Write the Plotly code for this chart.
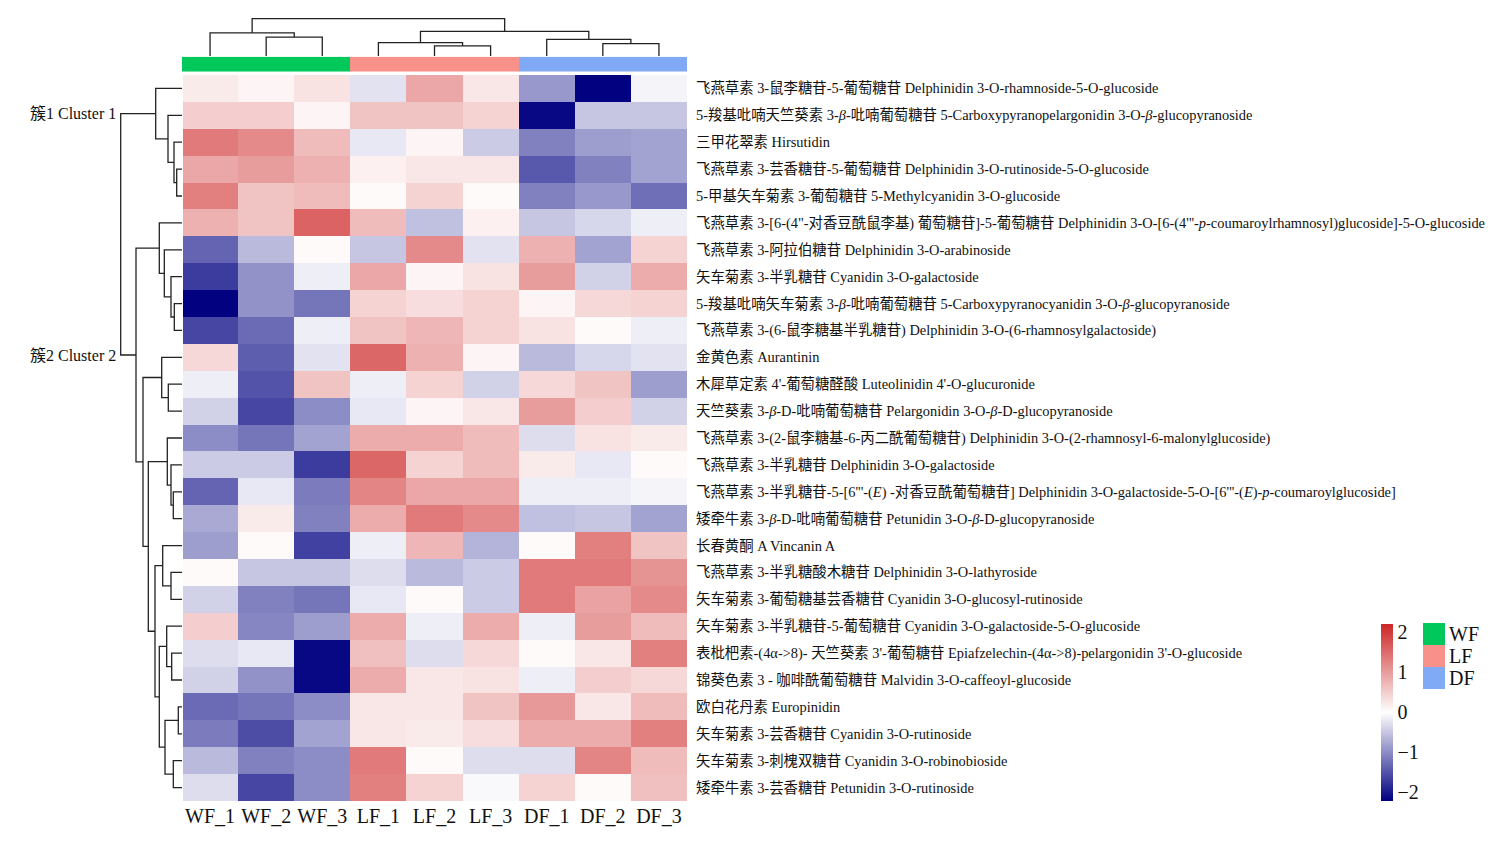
import plotly.graph_objects as go

W, H = 1507, 854

samples = ["WF_1", "WF_2", "WF_3", "LF_1", "LF_2", "LF_3", "DF_1", "DF_2", "DF_3"]
sample_group = [0, 0, 0, 1, 1, 1, 2, 2, 2]
groups = ["WF", "LF", "DF"]
group_colors = ["#00C85A", "#F8918A", "#80AAF5"]

compounds = [
    "飞燕草素 3-鼠李糖苷-5-葡萄糖苷 Delphinidin 3-O-rhamnoside-5-O-glucoside",
    "5-羧基吡喃天竺葵素 3-<i>β</i>-吡喃葡萄糖苷 5-Carboxypyranopelargonidin 3-O-<i>β</i>-glucopyranoside",
    "三甲花翠素 Hirsutidin",
    "飞燕草素 3-芸香糖苷-5-葡萄糖苷 Delphinidin 3-O-rutinoside-5-O-glucoside",
    "5-甲基矢车菊素 3-葡萄糖苷 5-Methylcyanidin 3-O-glucoside",
    "飞燕草素 3-[6-(4\"-对香豆酰鼠李基) 葡萄糖苷]-5-葡萄糖苷 Delphinidin 3-O-[6-(4'''-<i>p</i>-coumaroylrhamnosyl)glucoside]-5-O-glucoside",
    "飞燕草素 3-阿拉伯糖苷 Delphinidin 3-O-arabinoside",
    "矢车菊素 3-半乳糖苷 Cyanidin 3-O-galactoside",
    "5-羧基吡喃矢车菊素 3-<i>β</i>-吡喃葡萄糖苷 5-Carboxypyranocyanidin 3-O-<i>β</i>-glucopyranoside",
    "飞燕草素 3-(6-鼠李糖基半乳糖苷) Delphinidin 3-O-(6-rhamnosylgalactoside)",
    "金黄色素 Aurantinin",
    "木犀草定素 4'-葡萄糖醛酸 Luteolinidin 4'-O-glucuronide",
    "天竺葵素 3-<i>β</i>-D-吡喃葡萄糖苷 Pelargonidin 3-O-<i>β</i>-D-glucopyranoside",
    "飞燕草素 3-(2-鼠李糖基-6-丙二酰葡萄糖苷) Delphinidin 3-O-(2-rhamnosyl-6-malonylglucoside)",
    "飞燕草素 3-半乳糖苷 Delphinidin 3-O-galactoside",
    "飞燕草素 3-半乳糖苷-5-[6'''-(<i>E</i>) -对香豆酰葡萄糖苷] Delphinidin 3-O-galactoside-5-O-[6'''-(<i>E</i>)-<i>p</i>-coumaroylglucoside]",
    "矮牵牛素 3-<i>β</i>-D-吡喃葡萄糖苷 Petunidin 3-O-<i>β</i>-D-glucopyranoside",
    "长春黄酮 A Vincanin A",
    "飞燕草素 3-半乳糖酸木糖苷 Delphinidin 3-O-lathyroside",
    "矢车菊素 3-葡萄糖基芸香糖苷 Cyanidin 3-O-glucosyl-rutinoside",
    "矢车菊素 3-半乳糖苷-5-葡萄糖苷 Cyanidin 3-O-galactoside-5-O-glucoside",
    "表枇杷素-(4α->8)- 天竺葵素 3'-葡萄糖苷 Epiafzelechin-(4α->8)-pelargonidin 3'-O-glucoside",
    "锦葵色素 3 - 咖啡酰葡萄糖苷 Malvidin 3-O-caffeoyl-glucoside",
    "欧白花丹素 Europinidin",
    "矢车菊素 3-芸香糖苷 Cyanidin 3-O-rutinoside",
    "矢车菊素 3-刺槐双糖苷 Cyanidin 3-O-robinobioside",
    "矮牵牛素 3-芸香糖苷 Petunidin 3-O-rutinoside",
]

# row-scaled values (rows = compounds, cols = samples)
values = [
    [0.20, 0.10, 0.30, -0.25, 0.90, 0.25, -0.90, -2.20, -0.10],
    [0.50, 0.50, 0.10, 0.60, 0.60, 0.45, -2.15, -0.50, -0.50],
    [1.35, 1.20, 0.70, -0.20, 0.10, -0.45, -1.10, -0.85, -0.80],
    [0.90, 1.00, 0.80, 0.15, 0.25, 0.25, -1.45, -1.10, -0.80],
    [1.30, 0.60, 0.70, 0.05, 0.45, 0.05, -1.10, -0.90, -1.25],
    [0.80, 0.60, 1.60, 0.70, -0.55, 0.15, -0.50, -0.35, -0.15],
    [-1.35, -0.60, 0.05, -0.50, 1.20, -0.25, 0.80, -0.80, 0.45],
    [-1.70, -0.95, -0.15, 0.90, 0.10, 0.30, 1.00, -0.40, 0.85],
    [-2.20, -0.95, -1.20, 0.45, 0.35, 0.45, 0.10, 0.40, 0.45],
    [-1.60, -1.30, -0.15, 0.60, 0.75, 0.45, 0.30, 0.05, -0.15],
    [0.40, -1.40, -0.25, 1.55, 0.80, 0.10, -0.60, -0.35, -0.25],
    [-0.15, -1.50, 0.60, -0.15, 0.45, -0.40, 0.40, 0.60, -0.85],
    [-0.40, -1.60, -1.00, -0.20, 0.10, 0.25, 1.00, 0.50, -0.40],
    [-1.00, -1.20, -0.80, 0.85, 0.85, 0.70, -0.30, 0.30, 0.20],
    [-0.45, -0.45, -1.70, 1.55, 0.45, 0.70, 0.20, -0.20, 0.05],
    [-1.35, -0.20, -1.15, 1.25, 0.90, 0.90, -0.15, -0.15, -0.10],
    [-0.75, 0.20, -1.10, 0.85, 1.35, 1.20, -0.55, -0.50, -0.80],
    [-0.85, 0.05, -1.65, -0.15, 0.75, -0.65, 0.05, 1.30, 0.60],
    [0.05, -0.50, -0.50, -0.30, -0.60, -0.45, 1.35, 1.35, 1.10],
    [-0.40, -1.10, -1.20, -0.20, 0.05, -0.45, 1.35, 0.95, 1.20],
    [0.50, -1.05, -0.85, 0.85, -0.15, 0.85, -0.15, 1.00, 0.70],
    [-0.30, -0.20, -2.15, 0.65, -0.30, 0.40, 0.05, 0.25, 1.30],
    [-0.40, -0.95, -2.15, 0.85, 0.25, 0.30, -0.15, 0.50, 0.40],
    [-1.30, -1.20, -1.00, 0.25, 0.25, 0.60, 1.05, 0.25, 0.70],
    [-1.15, -1.55, -0.80, 0.25, 0.20, 0.35, 0.85, 0.85, 1.30],
    [-0.60, -1.10, -1.00, 1.35, 0.05, -0.30, -0.30, 1.25, 0.70],
    [-0.30, -1.60, -1.00, 1.30, 0.45, -0.05, 0.45, 0.05, 0.65],
]

# hierarchical clustering merges (scipy-style: id >= n refers to earlier merge), with merge heights
row_linkage = [
    (3, 4, 5.3), (2, 27, 8.0), (1, 28, 14.0), (0, 29, 26.3),
    (8, 9, 7.7), (7, 31, 11.0), (6, 32, 17.7), (5, 33, 22.7),
    (11, 12, 13.7), (10, 35, 20.3),
    (15, 16, 8.7), (14, 37, 11.0), (13, 38, 14.7),
    (18, 19, 11.0), (17, 40, 19.3),
    (21, 22, 10.3), (20, 42, 15.3),
    (23, 24, 3.7), (25, 26, 8.7), (44, 45, 17.0),
    (43, 46, 22.7), (41, 47, 27.0), (39, 48, 33.7), (36, 49, 39.0),
    (34, 50, 46.0), (30, 51, 61.3),
]
col_linkage = [
    (1, 2, 19.3), (0, 9, 23.7), (4, 5, 10.3), (3, 11, 13.7),
    (7, 8, 12.7), (6, 13, 17.0), (12, 14, 25.3), (10, 15, 38.3),
]
cluster_nodes = [30, 51]
cluster_names = ["簇1 Cluster 1", "簇2 Cluster 2"]

FONT = "Liberation Serif, Times New Roman, Noto Sans CJK SC, serif"


def dendro(linkage, n):
    pos = {i: float(i) for i in range(n)}
    hgt = {i: 0.0 for i in range(n)}
    P, Hh = [], []
    for k, (a, b, h) in enumerate(linkage):
        pa, pb = pos[a], pos[b]
        P += [pa, pa, pb, pb, None]
        Hh += [hgt[a], h, h, hgt[b], None]
        pos[n + k] = (pa + pb) / 2
        hgt[n + k] = h
    return P, Hh, pos, hgt


nr, nc = len(compounds), len(samples)
rp, rh, rpos, rhgt = dendro(row_linkage, nr)
cp, ch, cpos, chgt = dendro(col_linkage, nc)
root_h = row_linkage[-1][2]
col_root_h = col_linkage[-1][2]


def fx(px):
    return px / W


def fy(py):
    return 1 - py / H


fig = go.Figure()

# main heatmap
fig.add_trace(go.Heatmap(
    z=values, x=list(range(nc)), y=list(range(nr)),
    zmin=-2.22, zmax=2.22,
    colorscale=[[0, "#000080"], [0.5, "#FFFFFF"], [1, "#CD2626"]],
    xaxis="x", yaxis="y", hoverinfo="skip",
    colorbar=dict(
        x=fx(1381), xanchor="left", xpad=0, thickness=12,
        y=fy(712), yanchor="middle", len=177 / H, lenmode="fraction", ypad=0,
        outlinewidth=0, tickvals=[-2, -1, 0, 1, 2], ticks="",
        tickfont=dict(family=FONT, size=20, color="#111"),
    ),
))

# row dendrogram
fig.add_trace(go.Scatter(
    x=rh, y=rp, mode="lines", xaxis="x2", yaxis="y",
    line=dict(color="#222", width=1.3), hoverinfo="skip", showlegend=False,
))

# column dendrogram
fig.add_trace(go.Scatter(
    x=cp, y=ch, mode="lines", xaxis="x", yaxis="y3",
    line=dict(color="#222", width=1.3), hoverinfo="skip", showlegend=False,
))

disc = []
for i, c in enumerate(group_colors):
    disc += [[i / 3, c], [(i + 1) / 3, c]]

# group annotation bar
fig.add_trace(go.Heatmap(
    z=[sample_group], x=list(range(nc)), y=[0],
    zmin=-0.5, zmax=2.5, colorscale=disc, showscale=False,
    xaxis="x", yaxis="y4", hoverinfo="skip",
))

# group legend
fig.add_trace(go.Heatmap(
    z=[[i] for i in range(len(groups))], x=[0], y=list(range(len(groups))),
    zmin=-0.5, zmax=2.5, colorscale=disc, showscale=False,
    xaxis="x5", yaxis="y5", hoverinfo="skip",
))

annotations = []
for node, name in zip(cluster_nodes, cluster_names):
    annotations.append(dict(
        x=root_h, y=rpos[node], xref="x2", yref="y", text=name,
        showarrow=False, xanchor="right", yanchor="middle", xshift=-3,
        font=dict(family=FONT, size=16, color="#111"),
    ))

hidden = dict(visible=False, showgrid=False, zeroline=False)

fig.update_layout(
    width=W, height=H, margin=dict(l=0, r=0, t=0, b=0),
    paper_bgcolor="white", plot_bgcolor="white",
    font=dict(family=FONT, color="#111"),
    showlegend=False,
    annotations=annotations,
    xaxis=dict(domain=[fx(182), fx(687)], range=[-0.5, nc - 0.5], anchor="y",
               tickvals=list(range(nc)), ticktext=samples, ticks="",
               tickfont=dict(family=FONT, size=20, color="#111"),
               showgrid=False, zeroline=False, showline=False, ticklabelstandoff=1),
    yaxis=dict(domain=[fy(801), fy(75)], range=[nr - 0.5, -0.5], anchor="x",
               side="right", tickvals=list(range(nr)), ticktext=compounds, ticks="",
               tickfont=dict(family=FONT, size=14.4, color="#111"),
               showgrid=False, zeroline=False, showline=False, ticklabelstandoff=8),
    xaxis2=dict(domain=[fx(117), fx(183)], range=[root_h + 3.7, -1], anchor="y", **hidden),
    yaxis3=dict(domain=[fy(57), fy(15)], range=[-1, col_root_h + 3.7], anchor="x", **hidden),
    yaxis4=dict(domain=[fy(71.7), fy(56.7)], range=[-0.5, 0.5], anchor="x", **hidden),
    xaxis5=dict(domain=[fx(1423), fx(1445)], range=[-0.5, 0.5], anchor="y5", **hidden),
    yaxis5=dict(domain=[fy(689), fy(623)], range=[len(groups) - 0.5, -0.5], anchor="x5",
                side="right", tickvals=list(range(len(groups))), ticktext=groups, ticks="",
                tickfont=dict(family=FONT, size=20, color="#111"),
                showgrid=False, zeroline=False, showline=False, ticklabelstandoff=3),
)

fig.write_html(
    "out.html",
    config={"displayModeBar": False},
    post_script="document.body.style.margin='0';document.body.style.overflow='hidden';",
)
